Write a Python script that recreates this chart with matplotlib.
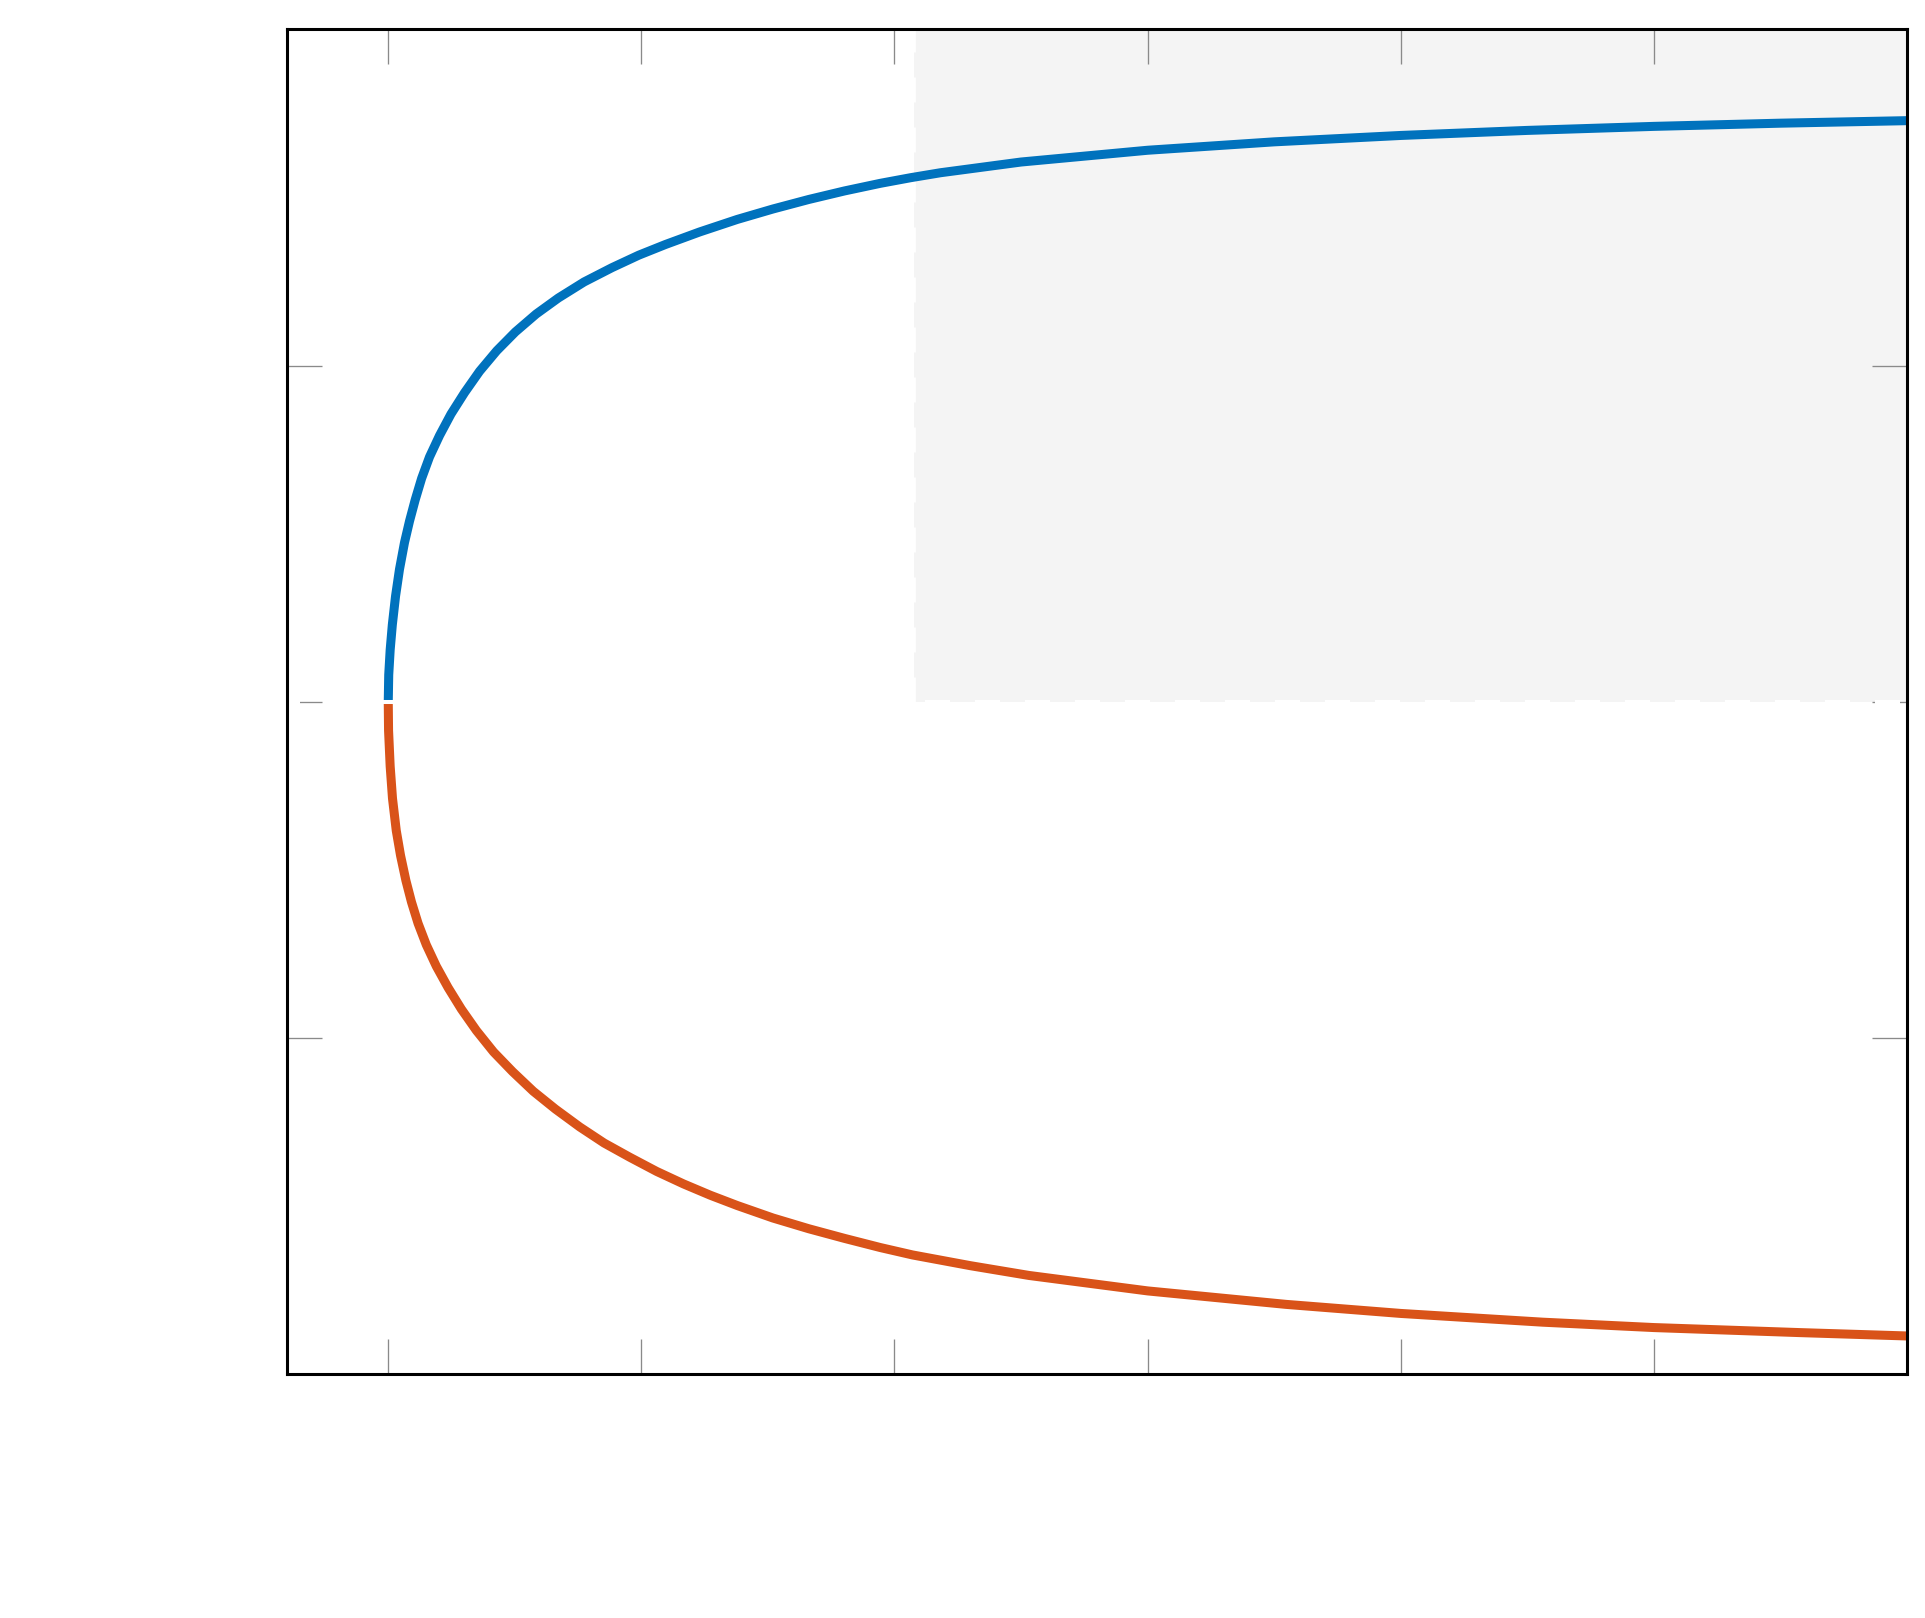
import matplotlib
matplotlib.use("Agg")
import matplotlib.pyplot as plt

plt.rcParams['lines.scale_dashes'] = False

# --- data ---
blue_x = [1.0, 1.0019, 1.0076, 1.0161, 1.0288, 1.0443, 1.0641, 1.0839, 1.1065,
          1.1319, 1.1630, 1.2026, 1.2478, 1.3015, 1.3609, 1.4287, 1.5022, 1.5842,
          1.6718, 1.7736, 1.8838, 1.9898, 2.0958, 2.2301, 2.3785, 2.5198, 2.6612,
          2.8025, 2.9438, 3.0640, 3.1813, 3.5, 4.0, 4.5, 5.0, 5.5, 6.0, 6.5, 7.0]
blue_y = [0.0, 0.0803, 0.1546, 0.2290, 0.3140, 0.3936, 0.4733, 0.5370, 0.6007,
          0.6645, 0.7282, 0.7919, 0.8557, 0.9194, 0.9831, 1.0440, 1.1000, 1.1531,
          1.2008, 1.2486, 1.2911, 1.3283, 1.3602, 1.3973, 1.4345, 1.4656, 1.4939,
          1.5193, 1.5419, 1.5587, 1.5734, 1.6053, 1.6403, 1.6653, 1.6843, 1.6993,
          1.7113, 1.7208, 1.7283]

red_x = [1.0, 1.00122, 1.00757, 1.01676, 1.0316, 1.04856, 1.06976, 1.09167,
         1.11781, 1.15032, 1.18989, 1.23653, 1.28883, 1.34818, 1.41602, 1.4909,
         1.5729, 1.6605, 1.7566, 1.8527, 1.9545, 2.0605, 2.1665, 2.2725, 2.3785,
         2.5198, 2.6612, 2.8025, 2.9438, 3.071, 3.3, 3.531, 4.0, 4.546, 5.0,
         5.561, 6.0, 6.577, 7.0]
red_y = [0.0, -0.0854, -0.1916, -0.2872, -0.3828, -0.4571, -0.5315, -0.5952,
         -0.6589, -0.7227, -0.7864, -0.8501, -0.9139, -0.9776, -1.0413, -1.0997,
         -1.1582, -1.2113, -1.2644, -1.3122, -1.3546, -1.3967, -1.4338, -1.4675,
         -1.4980, -1.5352, -1.5671, -1.5958, -1.623, -1.645, -1.677, -1.706,
         -1.752, -1.792, -1.819, -1.845, -1.861, -1.876, -1.886]

shade_x = [3.078, 7.0]
shade_y = [0.0, 2.0]

x_ticks = [1, 2, 3, 4, 5, 6, 7]
y_ticks = [-1, 0, 1]
x_limits = [0.6, 7.0]
y_limits = [-2.0, 2.0]

BLUE = '#0072BD'
RED = '#D95319'

fig = plt.figure(figsize=(19.25, 16.18), dpi=100)
ax = fig.add_axes([287 / 1925, 1 - 1374.3 / 1618, (1907 - 287) / 1925, (1374.3 - 29.3) / 1618])

ax.fill_between(shade_x, shade_y[0], shade_y[1], color='#f4f4f4', lw=0, zorder=1)

ax.plot(blue_x, blue_y, color=BLUE, lw=6.5, solid_capstyle='butt',
        solid_joinstyle='round', zorder=2)
ax.plot(red_x, red_y, color=RED, lw=6.5, solid_capstyle='butt',
        solid_joinstyle='round', zorder=2)

# white dashed boundary lines
ax.axhline(0, color='white', lw=2.9, linestyle=(8.64, (18, 18)),
           dash_capstyle='butt', zorder=3)
ax.plot([shade_x[0], shade_x[0]], [shade_y[0], shade_y[1]], color='white', lw=2.0,
        linestyle=(0, (18, 18)), dash_capstyle='butt', zorder=1.5)

ax.set_xlim(x_limits)
ax.set_ylim(y_limits)
ax.set_xticks(x_ticks)
ax.set_yticks(y_ticks)
ax.tick_params(axis='both', which='both', direction='in', length=25, width=0.95,
               color='#8a8a8a', top=True, right=True,
               labelbottom=False, labelleft=False)

for sp in ax.spines.values():
    sp.set_linewidth(2.2)
    sp.set_color('black')
    sp.set_zorder(4)

fig.savefig('out.png', dpi=100, facecolor='white')
